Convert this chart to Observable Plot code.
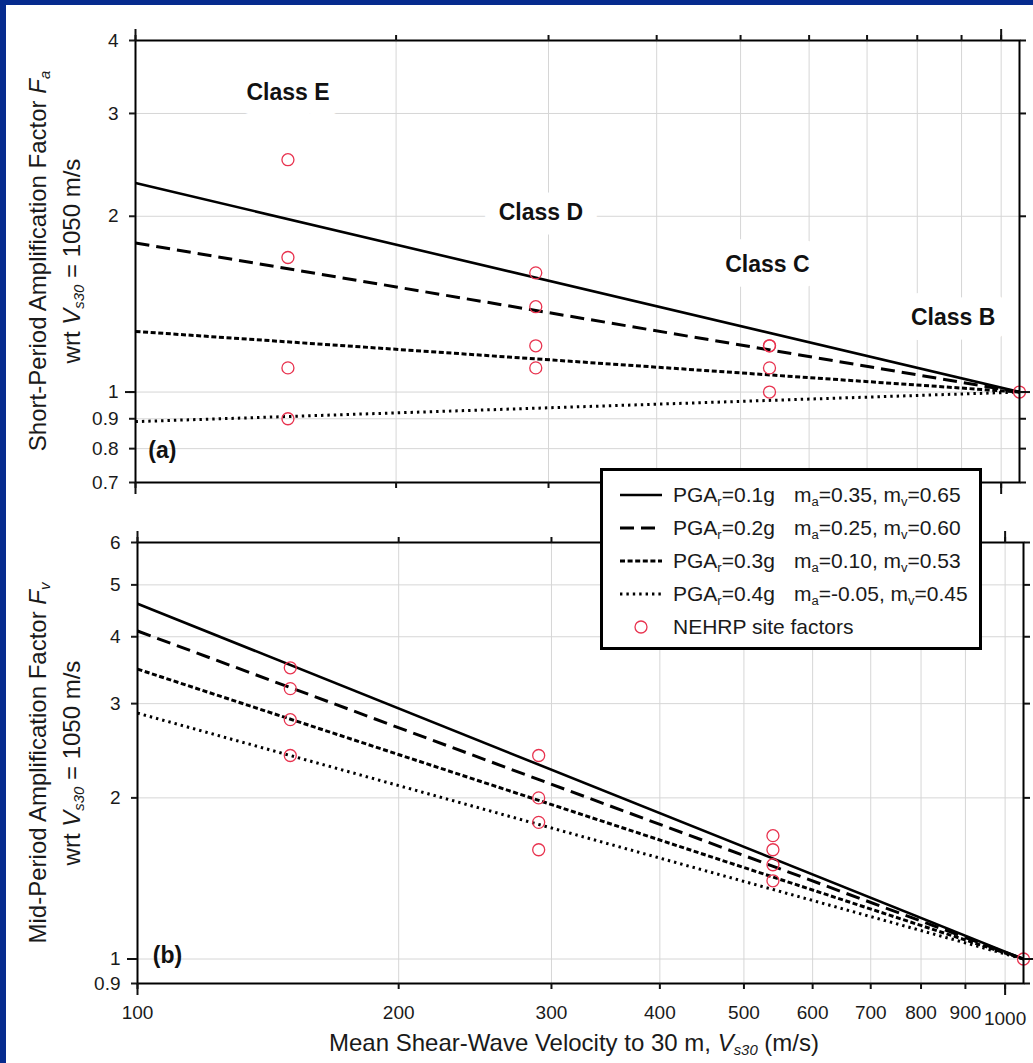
<!DOCTYPE html>
<html><head><meta charset="utf-8">
<script src="https://cdn.jsdelivr.net/npm/d3@7"></script>
<script src="https://cdn.jsdelivr.net/npm/@observablehq/plot@0.6"></script>
<style>
html,body{margin:0;padding:0;}
body{width:1033px;height:1063px;background:#062b8e;position:relative;overflow:hidden;font-family:"Liberation Sans",Arial,sans-serif;color:#111;}
#paper{position:absolute;left:6px;top:5px;width:1027px;height:1058px;background:#fff;}
.panel{position:absolute;left:0;}
.ylab{position:absolute;white-space:nowrap;font-size:24px;transform:translate(-50%,-50%) rotate(-90deg);color:#1a1a1a;}
.sub{font-size:62%;vertical-align:-0.28em;line-height:0;}
#legend{position:absolute;left:600px;top:468px;width:376px;height:176px;border:3px solid #000;background:#fff;}
.lrow{position:absolute;left:0;width:376px;height:30px;font-size:21px;color:#1a1a1a;}
.lrow svg{position:absolute;left:15px;top:0;}
.lrow .t1{position:absolute;left:70px;top:3px;white-space:nowrap;}
.lrow .t2{position:absolute;left:191px;top:3px;white-space:nowrap;}
#xtitle{position:absolute;left:574px;top:1043px;transform:translate(-50%,-50%);font-size:24px;white-space:nowrap;color:#1a1a1a;}
</style>
</head>
<body>
<div id="paper"></div>
<div id="top" class="panel" style="top:0px"></div>
<div id="bottom" class="panel" style="top:510px"></div>
<div class="ylab" style="left:38px;top:261px">Short-Period Amplification Factor <i>F<span class="sub">a</span></i></div>
<div class="ylab" style="left:72px;top:261px">wrt <i>V<span class="sub">s30</span></i> = 1050 m/s</div>
<div class="ylab" style="left:38px;top:763px">Mid-Period Amplification Factor <i>F<span class="sub">v</span></i></div>
<div class="ylab" style="left:72px;top:763px">wrt <i>V<span class="sub">s30</span></i> = 1050 m/s</div>
<div id="xtitle">Mean Shear-Wave Velocity to 30 m, <i>V<span class="sub">s30</span></i> (m/s)</div>
<div id="legend"></div>
<script>
// ---------- data ----------
const vsEnds = [100, 1050];                 // line end points (m/s)
const refValue = 1.0;                       // factor at Vs30 = 1050
const pgaLabels = ["0.1g", "0.2g", "0.3g", "0.4g"];
const maLabels = ["0.35", "0.25", "0.10", "-0.05"];
const mvLabels = ["0.65", "0.60", "0.53", "0.45"];
const faAt100 = [2.28, 1.80, 1.27, 0.89];  // short-period lines at 100 m/s
const fvAt100 = [4.61, 4.10, 3.48, 2.88];  // mid-period lines at 100 m/s

const classVs = [150, 290, 540, 1050];      // E, D, C, B
const siteFaE = [2.5, 1.7, 1.1, 0.9];
const siteFaD = [1.6, 1.4, 1.2, 1.1];
const siteFaC = [1.2, 1.2, 1.1, 1.0];
const siteFaB = [1.0];
const siteFvE = [3.5, 3.2, 2.8, 2.4];
const siteFvD = [2.4, 2.0, 1.8, 1.6];
const siteFvC = [1.7, 1.6, 1.5, 1.4];
const siteFvB = [1.0];

const classNames = ["Class E", "Class D", "Class C", "Class B"];
const classLabelVs = [150, 294, 537, 880];
const classLabelFa = [3.26, 2.03, 1.65, 1.34];

const xTicks = [100, 200, 300, 400, 500, 600, 700, 800, 900, 1000];
const xGrid = [200, 300, 400, 500, 600, 700, 800, 900, 1000];
const xMajor = [100, 1000];
const xLabelsMain = [100, 200, 300, 400, 500, 600, 700, 800, 900];
const xLabelsLow = [1000];
const faTicks = [0.7, 0.8, 0.9, 1, 2, 3, 4];
const faGrid = [0.8, 0.9, 1, 2, 3];
const fvTicks = [0.9, 1, 2, 3, 4, 5, 6];
const fvGrid = [1, 2, 3, 4, 5];
const yMajor = [1];
const panelTags = ["(a)", "(b)"];
const panelTagVs = [107.4, 108.3];
const panelTagF = [0.795, 1.014];

// ---------- styles ----------
const lineStyles = [
  {dash: null, w: 2.6},
  {dash: "14,7", w: 3},
  {dash: "5,2.6", w: 3},
  {dash: "2.4,4", w: 3}
];
const red = "#e8334f";
const gridColor = "#d6d6d6";
const blank = () => "";

function siteRows(groups) {
  return groups.flatMap((arr, k) => arr.map(f => ({v: classVs[k], f})));
}
function lineMarks(at100) {
  return at100.map((f0, i) => Plot.line(
    [{v: vsEnds[0], f: f0}, {v: vsEnds[1], f: refValue}],
    {x: "v", y: "f", stroke: "#000", strokeWidth: lineStyles[i].w,
     strokeDasharray: lineStyles[i].dash, strokeLinecap: "butt"}));
}

function panel({h, mT, mB, mL, mR, yDomain, yTicks, yGrid, at100, sites, labels, tagIdx, showXLabels}) {
  const marks = [
    Plot.gridX(xGrid, {stroke: gridColor, strokeOpacity: 1, strokeWidth: 1}),
    Plot.gridY(yGrid, {stroke: gridColor, strokeOpacity: 1, strokeWidth: 1}),
  ];
  if (labels) {
    const rows = classNames.map((name, i) => ({name, v: classLabelVs[i], f: classLabelFa[i]}));
    marks.push(Plot.text(rows, {x: "v", y: "f", text: "name", fontSize: 23, fontWeight: "bold",
      fill: "white", stroke: "white", strokeWidth: 30, strokeLinejoin: "round"}));
    marks.push(Plot.text(rows, {x: "v", y: "f", text: "name", fontSize: 23, fontWeight: "bold", fill: "#111"}));
  }
  marks.push(Plot.text([{t: panelTags[tagIdx], v: panelTagVs[tagIdx], f: panelTagF[tagIdx]}],
    {x: "v", y: "f", text: "t", fontSize: 23, fontWeight: "bold", fill: "#111"}));
  marks.push(...lineMarks(at100));
  marks.push(Plot.dot(siteRows(sites), {x: "v", y: "f", r: 6, stroke: red, fill: "none", strokeWidth: 1.3}));
  marks.push(Plot.frame({stroke: "#000", strokeWidth: 2}));
  // y axes
  marks.push(Plot.axisY(yTicks, {anchor: "left", label: null, tickSize: 6, tickPadding: 11, fontSize: 19, strokeWidth: 2, color: "#1a1a1a", tickFormat: d => String(d)}));
  marks.push(Plot.axisY(yMajor, {anchor: "left", label: null, tickSize: 10, strokeWidth: 2, tickFormat: blank}));
  marks.push(Plot.axisY(yTicks, {anchor: "right", label: null, tickSize: 6, strokeWidth: 2, tickFormat: blank}));
  marks.push(Plot.axisY(yMajor, {anchor: "right", label: null, tickSize: 10, strokeWidth: 2, tickFormat: blank}));
  // x axes
  marks.push(Plot.axisX(xTicks, {anchor: "top", label: null, tickSize: 6, strokeWidth: 2, tickFormat: blank}));
  marks.push(Plot.axisX(xMajor, {anchor: "top", label: null, tickSize: 12, strokeWidth: 2, tickFormat: blank}));
  marks.push(Plot.axisX(xTicks, {anchor: "bottom", label: null, tickSize: 6, strokeWidth: 2, tickFormat: blank}));
  marks.push(Plot.axisX(xMajor, {anchor: "bottom", label: null, tickSize: 12, strokeWidth: 2, tickFormat: blank}));
  if (showXLabels) {
    marks.push(Plot.axisX(xLabelsMain, {anchor: "bottom", label: null, tickSize: 0, tickPadding: 22, fontSize: 19, color: "#1a1a1a", tickFormat: d => String(d)}));
    marks.push(Plot.axisX(xLabelsLow, {anchor: "bottom", label: null, tickSize: 0, tickPadding: 28, fontSize: 19, color: "#1a1a1a", tickFormat: d => String(d)}));
  }
  return Plot.plot({
    width: 1033, height: h,
    marginTop: mT, marginBottom: mB, marginLeft: mL, marginRight: mR,
    x: {type: "log", domain: vsEnds, nice: false, axis: null, label: null},
    y: {type: "log", domain: yDomain, nice: false, axis: null, label: null},
    style: {background: "transparent", overflow: "visible", fontFamily: "Liberation Sans, Arial, sans-serif", fontSize: "19px"},
    marks
  });
}

document.getElementById("top").append(panel({
  h: 510, mT: 40, mB: 28, mL: 135, mR: 14,
  yDomain: [0.7, 4], yTicks: faTicks, yGrid: faGrid, at100: faAt100,
  sites: [siteFaE, siteFaD, siteFaC, siteFaB], labels: true, tagIdx: 0, showXLabels: false
}));
document.getElementById("bottom").append(panel({
  h: 553, mT: 32, mB: 80, mL: 137, mR: 10,
  yDomain: [0.9, 6], yTicks: fvTicks, yGrid: fvGrid, at100: fvAt100,
  sites: [siteFvE, siteFvD, siteFvC, siteFvB], labels: false, tagIdx: 1, showXLabels: true
}));

// ---------- legend ----------
const legend = document.getElementById("legend");
const rowTops = [9, 42, 75, 108, 141];
pgaLabels.forEach((p, i) => {
  const row = document.createElement("div");
  row.className = "lrow";
  row.style.top = rowTops[i] + "px";
  const st = lineStyles[i];
  row.innerHTML =
    `<svg width="46" height="30"><line x1="2" x2="44" y1="15" y2="15" stroke="#000" stroke-width="${st.w}" ${st.dash ? `stroke-dasharray="${st.dash}"` : ""}/></svg>` +
    `<span class="t1">PGA<span class="sub">r</span>=${p}</span>` +
    `<span class="t2">m<span class="sub">a</span>=${maLabels[i]}, m<span class="sub">v</span>=${mvLabels[i]}</span>`;
  legend.append(row);
});
const lastRow = document.createElement("div");
lastRow.className = "lrow";
lastRow.style.top = rowTops[4] + "px";
lastRow.innerHTML = `<svg width="46" height="30"><circle cx="23" cy="15" r="6" fill="none" stroke="${red}" stroke-width="1.3"/></svg><span class="t1">NEHRP site factors</span>`;
legend.append(lastRow);
</script>
</body></html>
